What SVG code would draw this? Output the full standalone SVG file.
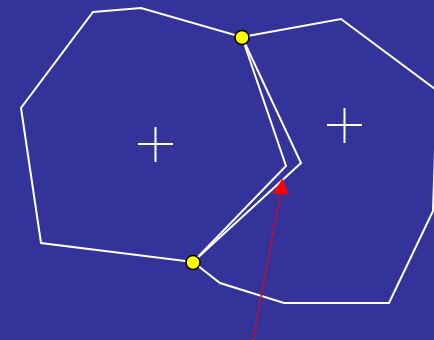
<svg xmlns="http://www.w3.org/2000/svg" width="434" height="340" viewBox="0 0 434 340">
<style>
.poly{fill:none;stroke:#ffffff;stroke-width:2;stroke-linejoin:miter}
.cross{stroke:#ffffff;stroke-width:2;fill:none}
.vert{fill:#ffff00;stroke:#000000;stroke-width:1.5}
.ray{stroke:#ff0000;stroke-width:2;stroke-dasharray:2,2;fill:none}
</style>
<rect width="434" height="340" fill="#333399"/>
<g id="polygonA">
<polygon class="poly" points="93,12 141,8 242,37 286,166 193,262 41,243 21,108"/>
<path class="cross" d="M138,144H173M155.5,127V162"/>
</g>
<g id="polygonB">
<polygon class="poly" points="242,37 341,19 455,104 435,150 433,211 389,303 284,303 220,283 193,262 301,163"/>
<path class="cross" d="M327,125H362M344.5,108V143"/>
</g>
<g id="connectors">
<line class="ray" x1="253" y1="340" x2="280.5" y2="193"/>
<polygon points="282.5,178.5 273,193.5 288.5,194.5" fill="#ff0000"/>
</g>
<g id="vertex1"><circle class="vert" cx="242" cy="37.5" r="7"/></g>
<g id="vertex2"><circle class="vert" cx="193" cy="262.5" r="7"/></g>
</svg>
